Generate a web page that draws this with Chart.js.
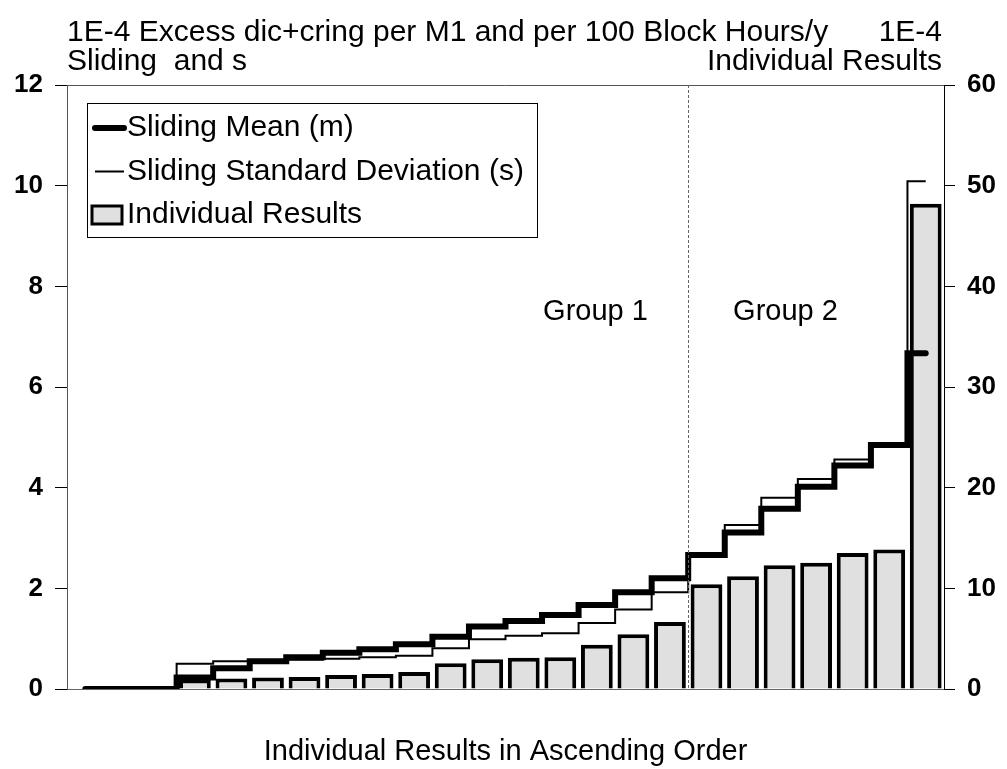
<!DOCTYPE html>
<html>
<head>
<meta charset="utf-8">
<script src="https://cdn.jsdelivr.net/npm/chart.js@4.4.1/dist/chart.umd.min.js"></script>
<style>
  html, body { margin: 0; padding: 0; background: #fff; }
  #wrap { width: 1007px; height: 769px; position: relative; }
</style>
</head>
<body>
<div id="wrap"><canvas id="chart"></canvas></div>
<script>
// values
const categories = ['1','2','3','4','5','6','7','8','9','10','11','12',
                    '13','14','15','16','17','18','19','20','21','22','23','24'];

// right axis (individual results)
const individualResults = [null, null, null, 0.95, 1.05, 1.15, 1.2, 1.4, 1.5, 1.7, 2.55, 2.95,
                           3.1, 3.15, 4.4, 5.45, 6.65, 10.4, 11.2, 12.3, 12.55, 13.5, 13.85, 48.2];

// left axis (sliding statistics)
const slidingMean = [0, 0, 0, 0.23, 0.41, 0.55, 0.63, 0.72, 0.79, 0.89, 1.04, 1.24,
                     1.35, 1.47, 1.67, 1.92, 2.2, 2.66, 3.11, 3.58, 4.02, 4.44, 4.85, 6.67];
const slidingStd = [0, 0, 0, 0.5, 0.55, 0.57, 0.58, 0.6, 0.63, 0.66, 0.81, 0.99,
                    1.06, 1.11, 1.31, 1.58, 1.92, 2.66, 3.26, 3.8, 4.17, 4.56, 4.87, 10.09];

const leftTicks = [0, 2, 4, 6, 8, 10, 12];
const rightTicks = [0, 10, 20, 30, 40, 50, 60];

const titleLeft = ['1E-4 Excess dic+cring per M1 and per 100 Block Hours/y', 'Sliding  and s'];
const titleRight = ['1E-4', 'Individual Results'];
const xTitle = 'Individual Results in Ascending Order';
const groupLabels = ['Group 1', 'Group 2'];
const groupSplit = 17; // first category of group 2 (index)

const FONT = '"Liberation Sans", Arial, Helvetica, sans-serif';

// title, legend box, group divider
const decorations = {
    id: 'decorations',
    afterDraw(chart) {
        const ctx = chart.ctx;
        const area = chart.chartArea;
        const x = chart.scales.x;
        ctx.save();

        // top frame line
        ctx.strokeStyle = '#555';
        ctx.lineWidth = 1;
        ctx.beginPath();
        ctx.moveTo(area.left, area.top + 0.5);
        ctx.lineTo(area.right, area.top + 0.5);
        ctx.stroke();

        // group divider
        const splitX = Math.round((x.getPixelForValue(groupSplit - 1) + x.getPixelForValue(groupSplit)) / 2) + 0.5;
        ctx.strokeStyle = '#666';
        ctx.setLineDash([3, 2]);
        ctx.beginPath();
        ctx.moveTo(splitX, area.top);
        ctx.lineTo(splitX, area.bottom);
        ctx.stroke();
        ctx.setLineDash([]);

        // headings
        ctx.fillStyle = '#000';
        ctx.font = '30px ' + FONT;
        ctx.textBaseline = 'middle';
        ctx.textAlign = 'left';
        ctx.fillText(titleLeft[0], area.left, 33);
        ctx.fillText(titleLeft[1], area.left, 62);
        ctx.textAlign = 'right';
        ctx.fillText(titleRight[0], area.right - 2, 33);
        ctx.fillText(titleRight[1], area.right - 2, 62);

        // group labels
        ctx.font = '29px ' + FONT;
        ctx.textAlign = 'center';
        ctx.fillText(groupLabels[0], splitX - 93, 312);
        ctx.fillText(groupLabels[1], splitX + 97, 312);

        // legend
        const lx = area.left + 20, ly = area.top + 18;
        ctx.strokeStyle = '#000';
        ctx.lineWidth = 1;
        ctx.strokeRect(lx + 0.5, ly + 0.5, 450, 134);
        ctx.font = '30px ' + FONT;
        const ds = chart.data.datasets;
        const rows = [ds[0], ds[1], ds[2]];
        rows.forEach((d, i) => {
            const cy = ly + 25 + i * 43.5;
            if (d.type === 'line') {
                ctx.strokeStyle = d.borderColor;
                ctx.lineWidth = d.borderWidth;
                ctx.lineCap = d.borderWidth > 3 ? 'round' : 'butt';
                ctx.beginPath();
                ctx.moveTo(lx + 8, cy);
                ctx.lineTo(lx + 37, cy);
                ctx.stroke();
            } else {
                ctx.fillStyle = d.backgroundColor;
                ctx.strokeStyle = d.borderColor;
                ctx.lineWidth = 3;
                ctx.fillRect(lx + 5, cy - 9, 30, 18);
                ctx.strokeRect(lx + 5, cy - 9, 30, 18);
            }
            ctx.fillStyle = '#000';
            ctx.textAlign = 'left';
            ctx.fillText(d.label, lx + 40, cy);
        });
        ctx.restore();
    }
};

new Chart(document.getElementById('chart'), {
    data: {
        labels: categories,
        datasets: [
            {
                type: 'line',
                label: 'Sliding Mean (m)',
                data: slidingMean,
                yAxisID: 'y',
                borderColor: '#000',
                borderWidth: 6,
                borderCapStyle: 'round',
                stepped: 'middle',
                pointRadius: 0,
                fill: false,
                order: 1
            },
            {
                type: 'line',
                label: 'Sliding Standard Deviation (s)',
                data: slidingStd,
                yAxisID: 'y',
                borderColor: '#000',
                borderWidth: 2,
                stepped: 'middle',
                pointRadius: 0,
                fill: false,
                order: 2
            },
            {
                type: 'bar',
                label: 'Individual Results',
                data: individualResults,
                yAxisID: 'y2',
                backgroundColor: '#e0e0e0',
                borderColor: '#000',
                borderWidth: 4,
                barPercentage: 0.87,
                categoryPercentage: 1.0,
                order: 3
            }
        ]
    },
    options: {
        responsive: true,
        maintainAspectRatio: false,
        animation: false,
        layout: { padding: { top: 85, left: 0, right: 0, bottom: 0 } },
        plugins: {
            legend: { display: false },
            tooltip: { enabled: false }
        },
        scales: {
            x: {
                type: 'category',
                offset: true,
                grid: { display: false, drawTicks: false },
                border: { display: true, color: '#666', width: 1, dash: [14, 4] },
                ticks: { display: false },
                title: {
                    display: true,
                    text: xTitle,
                    color: '#000',
                    font: { family: FONT, size: 29 },
                    padding: { top: 0, bottom: 0 }
                },
                afterFit(s) { s.height = 80; }
            },
            y: {
                position: 'left',
                min: 0,
                max: 12,
                afterBuildTicks(s) { s.ticks = leftTicks.map(v => ({ value: v })); },
                grid: { drawOnChartArea: false, drawTicks: true, tickLength: 12, color: '#000' },
                border: { color: '#555', width: 1 },
                ticks: { color: '#000', padding: 12, font: { family: FONT, size: 26, weight: 'bold' } },
                afterFit(s) { s.width = 67; }
            },
            y2: {
                position: 'right',
                min: 0,
                max: 60,
                afterBuildTicks(s) { s.ticks = rightTicks.map(v => ({ value: v })); },
                grid: { drawOnChartArea: false, drawTicks: true, tickLength: 11, color: '#000' },
                border: { color: '#000', width: 1 },
                ticks: { color: '#000', padding: 12, font: { family: FONT, size: 26, weight: 'bold' } },
                afterFit(s) { s.width = 63; }
            }
        }
    },
    plugins: [decorations]
});
</script>
</body>
</html>
